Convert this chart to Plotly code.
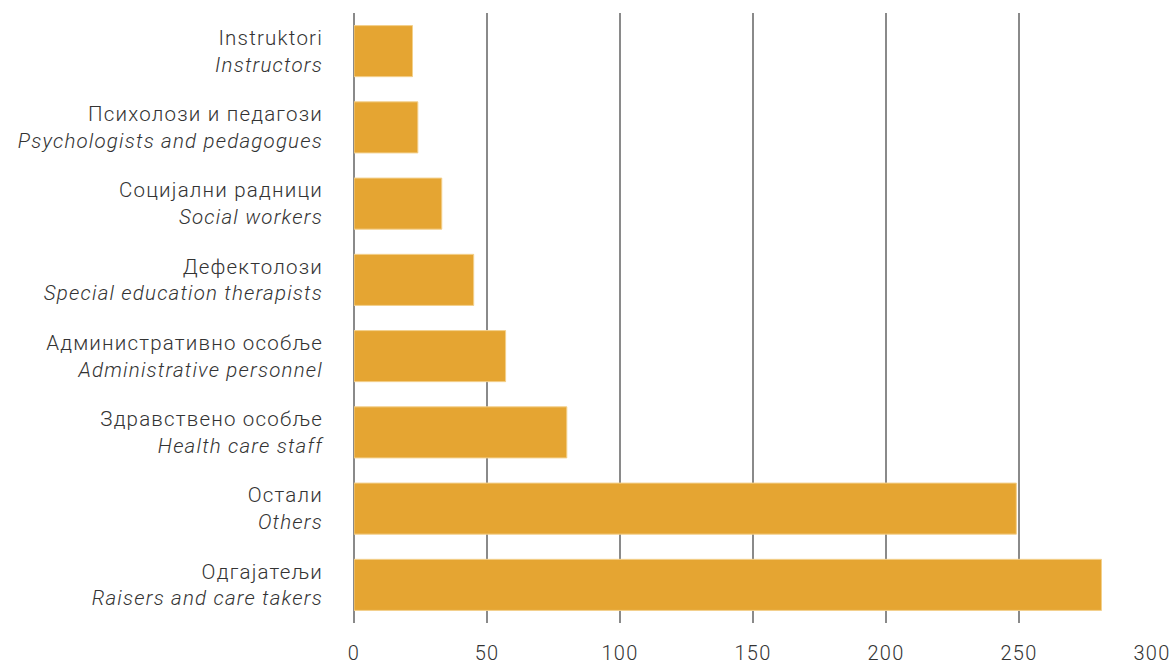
import plotly.graph_objects as go

categories_sr = ["Instruktori", "Психолози и педагози", "Социјални радници", "Дефектолози",
                 "Административно особље", "Здравствено особље", "Остали", "Одгајатељи"]
categories_en = ["Instructors", "Psychologists and pedagogues", "Social workers",
                 "Special education therapists", "Administrative personnel",
                 "Health care staff", "Others", "Raisers and care takers"]
values = [22, 24, 33, 45, 57, 80, 249, 281]
x_ticks = [0, 50, 100, 150, 200, 250, 300]

labels = [f"{s}<br><i>{e}</i>" for s, e in zip(categories_sr, categories_en)]

fig = go.Figure(go.Bar(
    x=values, y=labels, orientation="h",
    marker=dict(color="#E5A532", line=dict(color="#F3D08C", width=1)),
))

xfont = dict(family="Roboto", size=20, color="#333333", weight=300)
yfont = dict(family="Roboto", size=20.5, color="#333333", weight=300)

fig.update_layout(
    width=1174, height=664,
    margin=dict(l=354, r=22, t=13, b=41, autoexpand=False),
    plot_bgcolor="white", paper_bgcolor="white",
    bargap=0.33,
    showlegend=False,
    font=xfont,
    xaxis=dict(range=[0, 300], tickvals=x_ticks, showgrid=True, gridcolor="#8A8A8A",
               gridwidth=2, zeroline=True, zerolinecolor="#8A8A8A", zerolinewidth=2,
               ticks="", ticklabelstandoff=16, tickfont=xfont, fixedrange=True),
    yaxis=dict(autorange="reversed", ticks="", showgrid=False, ticklabelstandoff=30,
               tickfont=yfont, fixedrange=True),
)

post = (
    "document.body.style.margin='0';"
    "var s=document.createElement('style');"
    "s.textContent='.ytick text{letter-spacing:1.2px}.xtick text{letter-spacing:1.2px}';"
    "document.head.appendChild(s);"
)

fig.write_html("out.html", post_script=post, config={"displayModeBar": False})
